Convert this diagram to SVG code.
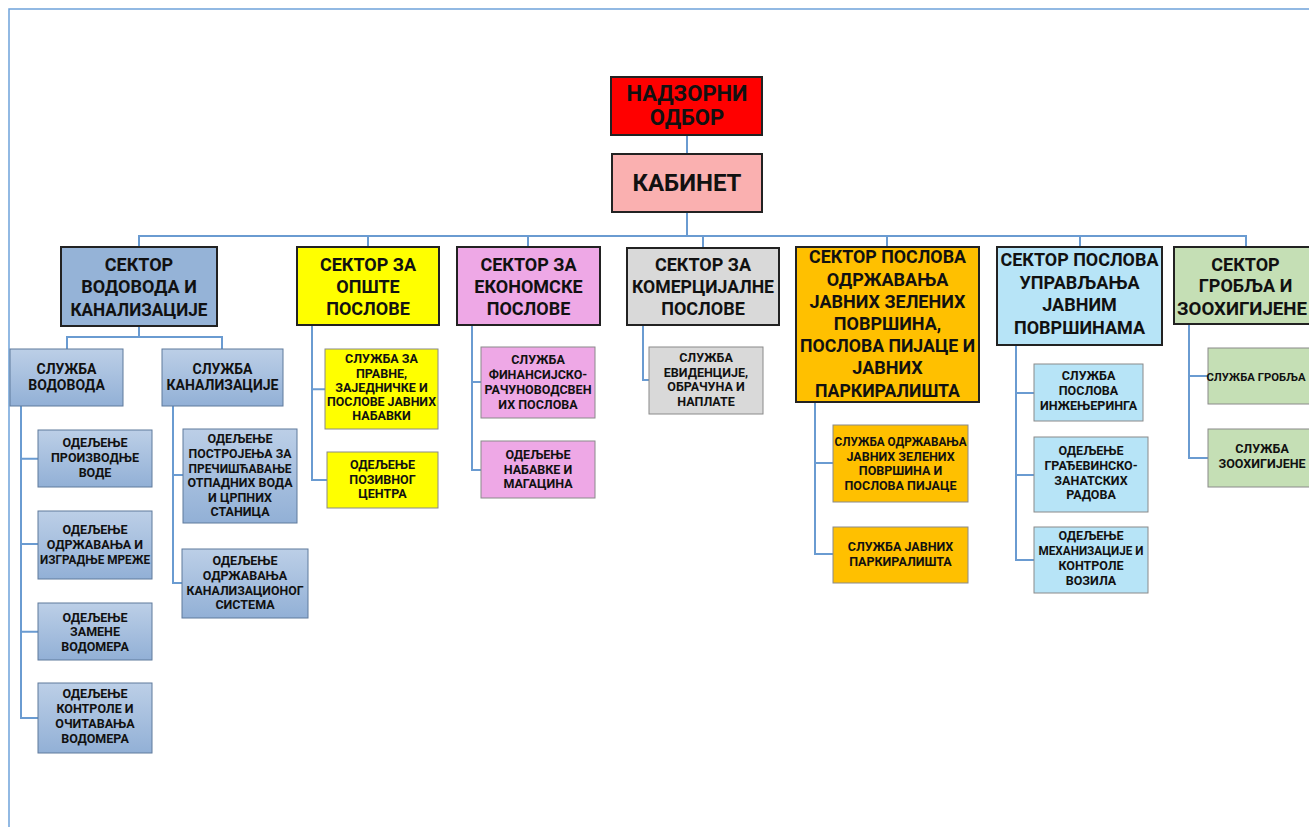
<svg xmlns="http://www.w3.org/2000/svg" width="1309" height="827" viewBox="0 0 1309 827">
<style>
text{font-family:Roboto,"Noto Sans","DejaVu Sans",sans-serif;font-weight:bold;fill:#111;text-anchor:middle}
.t1{font-size:22px}
.t0{font-size:24px}
.ts{font-size:18px}
.tm{font-size:14px}
.tx{font-size:12.5px}
.sec{stroke:#222;stroke-width:2}
.sub{stroke:#8a8a8a;stroke-width:1}
.subb{stroke:#5f7a9c;stroke-width:1;fill:url(#gb)}
.con{fill:none;stroke:#6a9bd1;stroke-width:2}
.frame{fill:none;stroke:#6fa3da;stroke-width:1.5}
</style>
<defs>
<linearGradient id="gb" x1="0" y1="0" x2="0" y2="1">
<stop offset="0" stop-color="#bccfe7"/>
<stop offset="1" stop-color="#92b0d6"/>
</linearGradient>
</defs>
<rect width="1309" height="827" fill="#fff"/>
<path class="frame" d="M9,827 V9 H1309"/>
<g id="connectors">
<path class="con" d="M687,135 V155"/>
<path class="con" d="M687,212 V236"/>
<path class="con" d="M139,247 V236 H1246 V247"/>
<path class="con" d="M368,236 V247 M528,236 V247 M703,236 V248 M887,236 V247 M1080,236 V247"/>
<path class="con" d="M139,326 V337 M67,349 V337 H222 V349"/>
<path class="con" d="M21,406 V718 H38 M21,458.7 H38 M21,544 H38 M21,631.7 H38"/>
<path class="con" d="M173,406 V583 H182 M173,475 H183"/>
<path class="con" d="M312,325 V480 H327 M312,389.3 H325"/>
<path class="con" d="M472,325 V470 H481 M472,382 H481"/>
<path class="con" d="M643,325 V380 H649"/>
<path class="con" d="M815,402 V554 H833 M815,463 H833"/>
<path class="con" d="M1016,345 V560 H1034 M1016,393 H1034 M1016,475 H1034"/>
<path class="con" d="M1189,324 V458 H1208 M1189,376 H1208"/>
</g>
<g id="nadzorni">
<rect class="sec" x="611" y="77" width="151" height="58" fill="#ff0000"/>
<text class="t1" x="687" y="100.7">НАДЗОРНИ</text>
<text class="t1" x="687" y="125.3">ОДБОР</text>
</g>
<g id="kabinet">
<rect class="sec" x="612" y="154" width="150" height="58" fill="#fab0b0"/>
<text class="t0" x="687" y="191">КАБИНЕТ</text>
</g>
<g id="sektor-vodovoda">
<rect class="sec" x="61" y="247" width="156" height="79" fill="#95b3d7"/>
<text class="ts" x="139" y="270.7">СЕКТОР</text>
<text class="ts" x="139" y="293.3">ВОДОВОДА И</text>
<text class="ts" x="139" y="316" textLength="137" lengthAdjust="spacingAndGlyphs">КАНАЛИЗАЦИЈЕ</text>
</g>
<g id="sektor-opste">
<rect class="sec" x="297" y="247" width="142" height="78" fill="#ffff00"/>
<text class="ts" x="368" y="270.5">СЕКТОР ЗА</text>
<text class="ts" x="368" y="292.5">ОПШТЕ</text>
<text class="ts" x="368" y="314.5">ПОСЛОВЕ</text>
</g>
<g id="sektor-ekonomske">
<rect class="sec" x="457" y="247" width="143" height="78" fill="#eea8e6"/>
<text class="ts" x="528.5" y="270.5">СЕКТОР ЗА</text>
<text class="ts" x="528.5" y="292.5">ЕКОНОМСКЕ</text>
<text class="ts" x="528.5" y="314.5">ПОСЛОВЕ</text>
</g>
<g id="sektor-komercijalne">
<rect class="sec" x="627" y="248" width="152" height="77" fill="#d9d9d9"/>
<text class="ts" x="703" y="270.5">СЕКТОР ЗА</text>
<text class="ts" x="703" y="292.5" textLength="142" lengthAdjust="spacingAndGlyphs">КОМЕРЦИЈАЛНЕ</text>
<text class="ts" x="703" y="314.5">ПОСЛОВЕ</text>
</g>
<g id="sektor-zelenih">
<rect class="sec" x="796" y="247" width="183" height="155" fill="#ffc000"/>
<text class="ts" x="887.5" y="263.3" textLength="157" lengthAdjust="spacingAndGlyphs">СЕКТОР ПОСЛОВА</text>
<text class="ts" x="887.5" y="285.5">ОДРЖАВАЊА</text>
<text class="ts" x="887.5" y="307.7">ЈАВНИХ ЗЕЛЕНИХ</text>
<text class="ts" x="887.5" y="329.9">ПОВРШИНА,</text>
<text class="ts" x="887.5" y="352.1" textLength="175" lengthAdjust="spacingAndGlyphs">ПОСЛОВА ПИЈАЦЕ И</text>
<text class="ts" x="887.5" y="374.3">ЈАВНИХ</text>
<text class="ts" x="887.5" y="396.5" textLength="145" lengthAdjust="spacingAndGlyphs">ПАРКИРАЛИШТА</text>
</g>
<g id="sektor-upravljanja">
<rect class="sec" x="997" y="247" width="165" height="98" fill="#b7e4f7"/>
<text class="ts" x="1079.5" y="266" textLength="158" lengthAdjust="spacingAndGlyphs">СЕКТОР ПОСЛОВА</text>
<text class="ts" x="1079.5" y="288.7">УПРАВЉАЊА</text>
<text class="ts" x="1079.5" y="311.3">ЈАВНИМ</text>
<text class="ts" x="1079.5" y="334">ПОВРШИНАМА</text>
</g>
<g id="sektor-groblja">
<rect class="sec" x="1174" y="247" width="143" height="77" fill="#c5dfb5"/>
<text class="ts" x="1245.5" y="270.7">СЕКТОР</text>
<text class="ts" x="1245.5" y="292.3">ГРОБЉА И</text>
<text class="ts" x="1242" y="315" textLength="130" lengthAdjust="spacingAndGlyphs">ЗООХИГИЈЕНЕ</text>
</g>
<g id="sluzba-vodovoda">
<rect class="subb" x="10" y="349" width="113" height="57"/>
<text class="tm" x="66.5" y="374">СЛУЖБА</text>
<text class="tm" x="66.5" y="390">ВОДОВОДА</text>
</g>
<g id="sluzba-kanalizacije">
<rect class="subb" x="162" y="349" width="121" height="57"/>
<text class="tm" x="222.5" y="374">СЛУЖБА</text>
<text class="tm" x="222.5" y="390">КАНАЛИЗАЦИЈЕ</text>
</g>
<g id="odeljenje-proizvodnje">
<rect class="subb" x="38" y="430" width="114" height="57"/>
<text class="tx" x="95" y="447.3">ОДЕЉЕЊЕ</text>
<text class="tx" x="95" y="462">ПРОИЗВОДЊЕ</text>
<text class="tx" x="95" y="476.7">ВОДЕ</text>
</g>
<g id="odeljenje-odrzavanja-mreze">
<rect class="subb" x="38" y="511" width="114" height="68"/>
<text class="tx" x="95" y="534">ОДЕЉЕЊЕ</text>
<text class="tx" x="95" y="549">ОДРЖАВАЊА И</text>
<text class="tx" x="95" y="563.5" textLength="110" lengthAdjust="spacingAndGlyphs">ИЗГРАДЊЕ МРЕЖЕ</text>
</g>
<g id="odeljenje-zamene">
<rect class="subb" x="38" y="603" width="114" height="57"/>
<text class="tx" x="95" y="621.5">ОДЕЉЕЊЕ</text>
<text class="tx" x="95" y="636.3">ЗАМЕНЕ</text>
<text class="tx" x="95" y="650.7">ВОДОМЕРА</text>
</g>
<g id="odeljenje-kontrole">
<rect class="subb" x="38" y="683" width="114" height="70"/>
<text class="tx" x="95" y="698.3">ОДЕЉЕЊЕ</text>
<text class="tx" x="95" y="713.3">КОНТРОЛЕ И</text>
<text class="tx" x="95" y="728.3">ОЧИТАВАЊА</text>
<text class="tx" x="95" y="743.3">ВОДОМЕРА</text>
</g>
<g id="odeljenje-postrojenja">
<rect class="subb" x="183" y="429" width="114" height="94"/>
<text class="tx" x="240" y="443.3">ОДЕЉЕЊЕ</text>
<text class="tx" x="240" y="458" textLength="103" lengthAdjust="spacingAndGlyphs">ПОСТРОЈЕЊА ЗА</text>
<text class="tx" x="240" y="472.6" textLength="103" lengthAdjust="spacingAndGlyphs">ПРЕЧИШЋАВАЊЕ</text>
<text class="tx" x="240" y="487.2" textLength="105" lengthAdjust="spacingAndGlyphs">ОТПАДНИХ ВОДА</text>
<text class="tx" x="240" y="501.7">И ЦРПНИХ</text>
<text class="tx" x="240" y="516.2">СТАНИЦА</text>
</g>
<g id="odeljenje-kanalizacionog">
<rect class="subb" x="182" y="549" width="126" height="69"/>
<text class="tx" x="245" y="565">ОДЕЉЕЊЕ</text>
<text class="tx" x="245" y="580">ОДРЖАВАЊА</text>
<text class="tx" x="245" y="594.5" textLength="117" lengthAdjust="spacingAndGlyphs">КАНАЛИЗАЦИОНОГ</text>
<text class="tx" x="245" y="609.3">СИСТЕМА</text>
</g>
<g id="sluzba-pravne">
<rect class="sub" x="325" y="349" width="113" height="80" fill="#ffff00" stroke="#c9c9a8"/>
<text class="tx" x="381.5" y="363.3">СЛУЖБА ЗА</text>
<text class="tx" x="381.5" y="377.5">ПРАВНЕ,</text>
<text class="tx" x="381.5" y="391.7">ЗАЈЕДНИЧКЕ И</text>
<text class="tx" x="381.5" y="406" textLength="109" lengthAdjust="spacingAndGlyphs">ПОСЛОВЕ ЈАВНИХ</text>
<text class="tx" x="381.5" y="420.2">НАБАВКИ</text>
</g>
<g id="odeljenje-pozivnog">
<rect class="sub" x="327" y="452" width="111" height="56" fill="#ffff00" stroke="#c9c9a8"/>
<text class="tx" x="382.5" y="469.3">ОДЕЉЕЊЕ</text>
<text class="tx" x="382.5" y="484">ПОЗИВНОГ</text>
<text class="tx" x="382.5" y="498.3">ЦЕНТРА</text>
</g>
<g id="sluzba-finansijsko">
<rect class="sub" x="481" y="347" width="114" height="71" fill="#eea8e6" stroke="#b99ab4"/>
<text class="tx" x="538" y="364">СЛУЖБА</text>
<text class="tx" x="538" y="379.3">ФИНАНСИЈСКО-</text>
<text class="tx" x="538" y="394" textLength="107" lengthAdjust="spacingAndGlyphs">РАЧУНОВОДСВЕН</text>
<text class="tx" x="538" y="408.5">ИХ ПОСЛОВА</text>
</g>
<g id="odeljenje-nabavke">
<rect class="sub" x="481" y="441" width="114" height="57" fill="#eea8e6" stroke="#b99ab4"/>
<text class="tx" x="538" y="459.3">ОДЕЉЕЊЕ</text>
<text class="tx" x="538" y="473.8">НАБАВКЕ И</text>
<text class="tx" x="538" y="488.3">МАГАЦИНА</text>
</g>
<g id="sluzba-evidencije">
<rect class="sub" x="649" y="347" width="114" height="67" fill="#d9d9d9" stroke="#a8a8a8"/>
<text class="tx" x="706" y="362">СЛУЖБА</text>
<text class="tx" x="706" y="376.7">ЕВИДЕНЦИЈЕ,</text>
<text class="tx" x="706" y="391.3">ОБРАЧУНА И</text>
<text class="tx" x="706" y="406">НАПЛАТЕ</text>
</g>
<g id="sluzba-zelenih">
<rect class="sub" x="833" y="425" width="135" height="77" fill="#ffc000" stroke="#c9a55a"/>
<text class="tx" x="900.5" y="446" textLength="132" lengthAdjust="spacingAndGlyphs">СЛУЖБА ОДРЖАВАЊА</text>
<text class="tx" x="900.5" y="460.7">ЈАВНИХ ЗЕЛЕНИХ</text>
<text class="tx" x="900.5" y="475.3">ПОВРШИНА И</text>
<text class="tx" x="900.5" y="490">ПОСЛОВА ПИЈАЦЕ</text>
</g>
<g id="sluzba-parkiralista">
<rect class="sub" x="833" y="527" width="135" height="56" fill="#ffc000" stroke="#c9a55a"/>
<text class="tx" x="900.5" y="550.7">СЛУЖБА ЈАВНИХ</text>
<text class="tx" x="900.5" y="565.7">ПАРКИРАЛИШТА</text>
</g>
<g id="sluzba-inzenjeringa">
<rect class="sub" x="1034" y="364" width="109" height="57" fill="#b7e4f7" stroke="#d2ecf6"/>
<text class="tx" x="1088.5" y="380">СЛУЖБА</text>
<text class="tx" x="1088.5" y="395">ПОСЛОВА</text>
<text class="tx" x="1088.5" y="410">ИНЖЕЊЕРИНГА</text>
</g>
<g id="odeljenje-gradjevinsko">
<rect class="sub" x="1034" y="437" width="114" height="75" fill="#b7e4f7" stroke="#d2ecf6"/>
<text class="tx" x="1091" y="455">ОДЕЉЕЊЕ</text>
<text class="tx" x="1091" y="470">ГРАЂЕВИНСКО-</text>
<text class="tx" x="1091" y="484.5">ЗАНАТСКИХ</text>
<text class="tx" x="1091" y="499.3">РАДОВА</text>
</g>
<g id="odeljenje-mehanizacije">
<rect class="sub" x="1034" y="527" width="114" height="66" fill="#b7e4f7" stroke="#d2ecf6"/>
<text class="tx" x="1091" y="540">ОДЕЉЕЊЕ</text>
<text class="tx" x="1091" y="555" textLength="105" lengthAdjust="spacingAndGlyphs">МЕХАНИЗАЦИЈЕ И</text>
<text class="tx" x="1091" y="570">КОНТРОЛЕ</text>
<text class="tx" x="1091" y="585">ВОЗИЛА</text>
</g>
<g id="sluzba-groblja">
<rect class="sub" x="1208" y="348" width="108" height="56" fill="#c5dfb5" stroke="#8e9e84"/>
<text x="1256" y="380.5" style="font-size:11.3px">СЛУЖБА ГРОБЉА</text>
</g>
<g id="sluzba-zoohigijene">
<rect class="sub" x="1208" y="429" width="108" height="58" fill="#c5dfb5" stroke="#8e9e84"/>
<text class="tx" x="1262" y="452.7">СЛУЖБА</text>
<text class="tx" x="1262" y="468.3">ЗООХИГИЈЕНЕ</text>
</g>
</svg>
